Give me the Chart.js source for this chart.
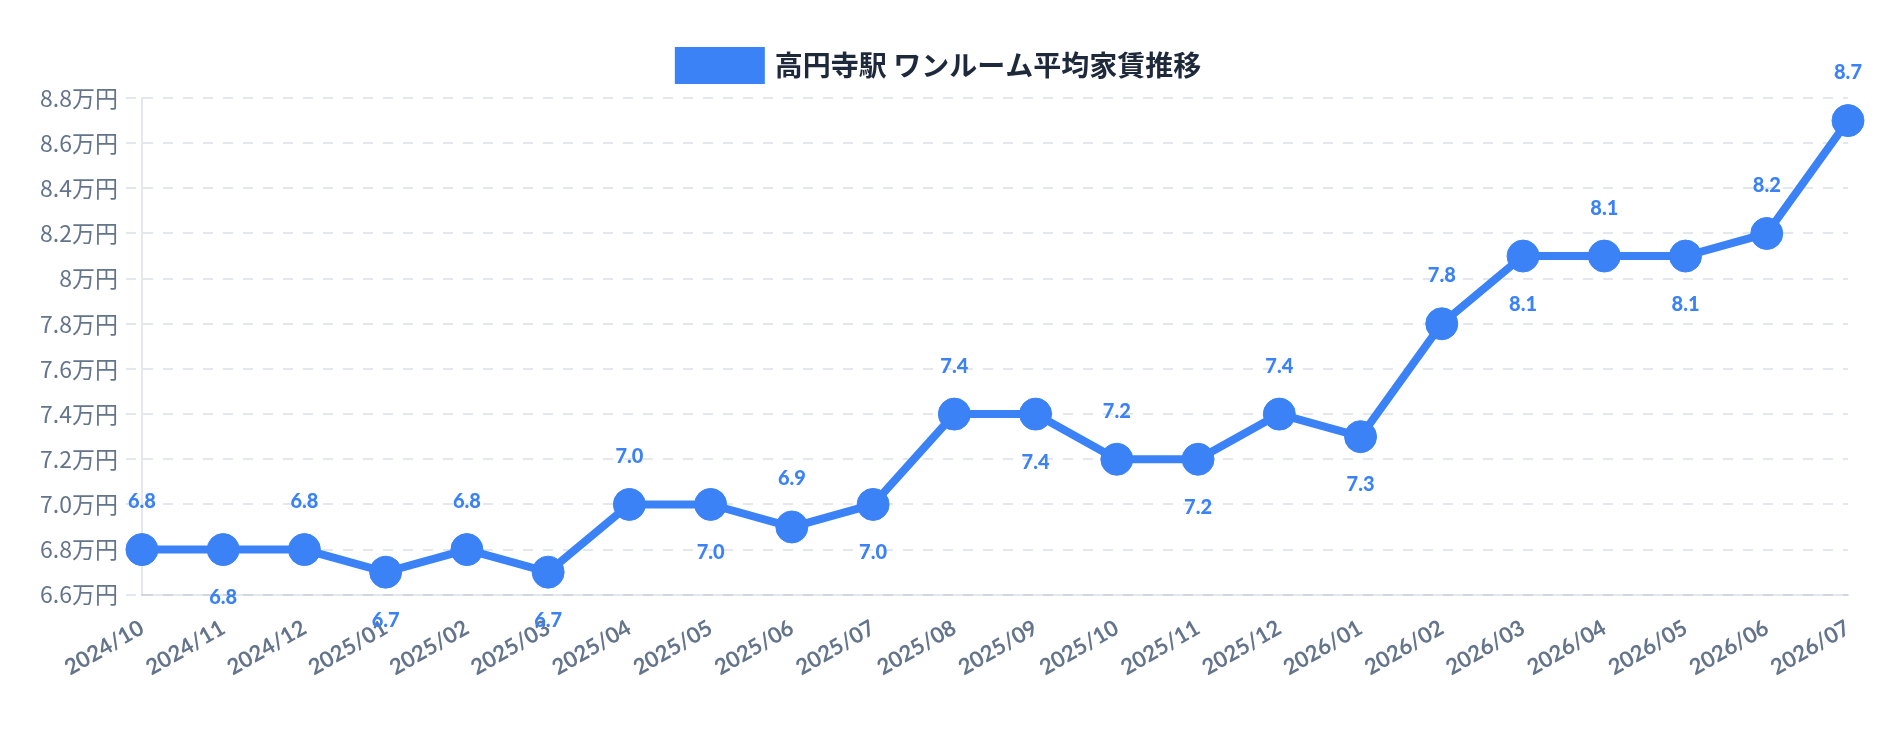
<!DOCTYPE html>
<html lang="ja">
<head>
<meta charset="utf-8">
<title>高円寺駅 ワンルーム平均家賃推移</title>
<script src="https://cdn.jsdelivr.net/npm/chart.js@4.4.1/dist/chart.umd.min.js"></script>
<style>
  html, body { margin: 0; padding: 0; background: #ffffff; }
  #wrap { width: 1880px; height: 732px; }
</style>
</head>
<body>
<div id="wrap"><canvas id="rentChart" width="1880" height="732"></canvas></div>
<script>
// 月ラベル
const months = [
    '2024/10', '2024/11', '2024/12',
    '2025/01', '2025/02', '2025/03', '2025/04', '2025/05', '2025/06',
    '2025/07', '2025/08', '2025/09', '2025/10', '2025/11', '2025/12',
    '2026/01', '2026/02', '2026/03', '2026/04', '2026/05', '2026/06', '2026/07'
];

// 平均家賃 (万円)
const rent = [
    6.8, 6.8, 6.8,
    6.7, 6.8, 6.7, 7.0, 7.0, 6.9,
    7.0, 7.4, 7.4, 7.2, 7.2, 7.4,
    7.3, 7.8, 8.1, 8.1, 8.1, 8.2, 8.7
];

// y軸の目盛ラベル (下から)
const yTickLabels = [
    '6.6万円', '6.8万円', '7.0万円', '7.2万円', '7.4万円', '7.6万円',
    '7.8万円', '8万円', '8.2万円', '8.4万円', '8.6万円', '8.8万円'
];

const seriesName = '高円寺駅 ワンルーム平均家賃推移';

const BLUE = '#3b82f6';
const GRID = 'rgba(148, 163, 184, 0.25)';

// 値ラベル (上下交互に表示)
const valueLabels = {
    id: 'valueLabels',
    afterDatasetsDraw(chart) {
        const ctx = chart.ctx;
        const meta = chart.getDatasetMeta(0);
        const last = meta.data.length - 1;
        ctx.save();
        ctx.font = '900 20px Lato, "Noto Sans", sans-serif';
        ctx.fillStyle = BLUE;
        ctx.textAlign = 'center';
        ctx.textBaseline = 'middle';
        meta.data.forEach((pt, i) => {
            const above = i % 2 === 0 || i === last;
            ctx.fillText(rent[i].toFixed(1), pt.x, pt.y + (above ? -48 : 48));
        });
        ctx.restore();
    }
};

// 凡例の下に少し余白を足す
const legendGap = {
    id: 'legendGap',
    beforeInit(chart) {
        const fit = chart.legend.fit;
        chart.legend.fit = function () {
            fit.bind(chart.legend)();
            this.height += 8;
        };
    }
};

Chart.defaults.font.family = '"Noto Sans CJK JP", "Noto Sans", sans-serif';

const ctx = document.getElementById('rentChart').getContext('2d');
new Chart(ctx, {
    type: 'line',
    data: {
        labels: months,
        datasets: [{
            label: seriesName,
            data: rent,
            borderColor: BLUE,
            backgroundColor: BLUE,
            borderWidth: 8,
            pointRadius: 16,
            pointBorderWidth: 1,
            pointBackgroundColor: BLUE,
            pointBorderColor: BLUE,
            tension: 0,
            fill: false
        }]
    },
    options: {
        responsive: false,
        animation: false,
        devicePixelRatio: 1,
        layout: {
            padding: { top: 41, left: 32, right: 32, bottom: 41 }
        },
        plugins: {
            legend: {
                display: true,
                position: 'top',
                labels: {
                    boxWidth: 82,
                    boxHeight: 29,
                    padding: 10,
                    color: '#1e293b',
                    font: { size: 28, weight: '600' }
                }
            },
            tooltip: { enabled: false }
        },
        scales: {
            x: {
                grid: { display: false, drawTicks: true, tickLength: 10 },
                border: { display: true, color: GRID, width: 2 },
                ticks: {
                    color: '#64748b',
                    minRotation: 30,
                    maxRotation: 30,
                    autoSkip: false,
                    padding: 10,
                    font: { family: 'Lato, "Noto Sans", sans-serif', size: 22, weight: 'bold' }
                }
            },
            y: {
                min: 6.6,
                max: 8.8,
                grid: {
                    color: GRID,
                    lineWidth: 2,
                    tickBorderDash: [10, 10],
                    tickLength: 16
                },
                border: { display: true, color: GRID, width: 2, dash: [10, 10] },
                ticks: {
                    stepSize: 0.2,
                    color: '#64748b',
                    padding: 8,
                    font: { size: 23 },
                    callback: (value, index) => yTickLabels[index]
                }
            }
        }
    },
    plugins: [valueLabels, legendGap]
});
</script>
</body>
</html>
